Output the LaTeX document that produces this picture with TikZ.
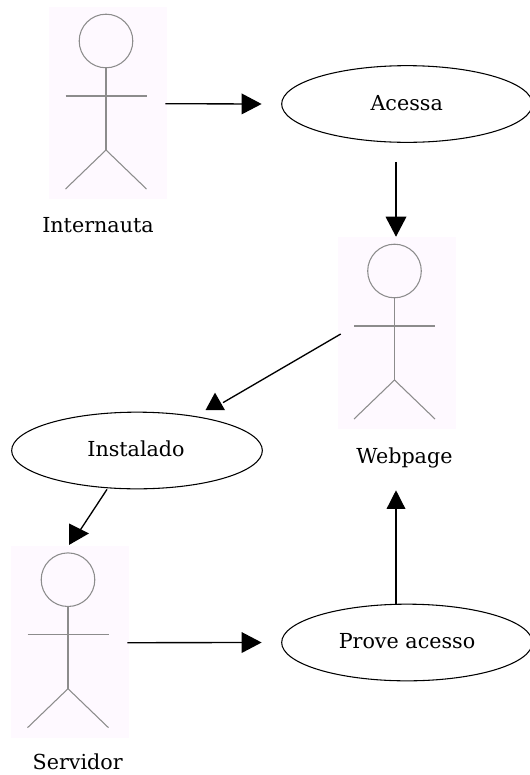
\documentclass[tikz,border=0pt]{standalone}
\usepackage{fontspec}
\setmainfont{DejaVu Serif}
\usetikzlibrary{shapes.geometric,arrows.meta,calc}
\definecolor{actorpink}{RGB}{254,249,255}
\tikzset{
  usecase/.style={draw=black,line width=0.8pt,ellipse,inner sep=0pt,minimum width=188pt,minimum height=57.5pt},
  label text/.style={inner sep=0pt,anchor=base,font=\fontsize{15.5pt}{18pt}\selectfont},
  actorbox/.style={fill=actorpink,draw=none,inner sep=0pt,minimum width=88.5pt,minimum height=144pt},
  limb/.style={draw=black!45,line width=0.8pt},
  flow/.style={draw=black,line width=1pt},
  flowtip/.style={flow,-{Triangle[length=15pt,width=15.5pt]}},
  tiphead/.style={fill=black,draw=none},
  pics/stick/.style={code={
    \draw[limb] (0,-62) circle[radius=26.8];
    \draw[limb] (0,-35) -- (0,47);
    \draw[limb] (-40.5,-7) -- (40.5,-7);
    \draw[limb] (-40.5,86) -- (0,47) -- (40.5,86);
  }}
}
\begin{document}
\begin{tikzpicture}[x=0.75pt,y=-0.75pt]
\useasboundingbox (0,0) rectangle (529,775);
\node[actorbox] (internauta) at (108,103) {};
\pic at (106,103) {stick};
\node[actorbox] (webpage) at (397,333) {};
\pic at (394.5,333) {stick};
\node[actorbox] (servidor) at (70,641.7) {};
\pic at (68,641.7) {stick};
\node[label text] (l1) at (98,232) {Internauta};
\node[label text] (l2) at (404.5,463) {Webpage};
\node[label text] (l3) at (77.7,769) {Servidor};
\node[usecase] (acessa) at (407,104) {};
\node[label text] (l4) at (406.7,110) {Acessa};
\node[usecase] (instalado) at (137,450.5) {};
\node[label text] (l5) at (136,456) {Instalado};
\node[usecase] (prove) at (407,642.5) {};
\node[label text] (l6) at (407,648) {Prove acesso};
% connectors
\draw[flowtip] ($(internauta.east)+(-2,0.7)$) -- ($(acessa.west)+(-19.5,0)$);
\draw[flowtip] ($(acessa.south)+(-11,19)$) -- ($(webpage.north)+(-1,0)$);
\draw[flow] ($(webpage.west)+(3,1)$) -- ($(instalado.north)+(86,-9)$);
\fill[tiphead] ($(instalado.north)+(68.5,-1.5)$) -- ($(instalado.north)+(88,-1.5)$) -- ($(instalado.north)+(78,-19)$) -- cycle;
\draw[flow] ($(instalado.south)+(-30,0)$) -- ($(servidor.north)+(10,-15)$);
\fill[tiphead] ($(servidor.north)+(-1,-22)$) -- ($(servidor.north)+(-1,-0.5)$) -- ($(servidor.north)+(19,-12)$) -- cycle;
\draw[flowtip] ($(servidor.east)+(-2,1)$) -- ($(prove.west)+(-19.5,0)$);
\draw[flowtip,-{Triangle[length=14pt,width=14pt]}] ($(prove.north)+(-11,0)$) -- ($(webpage.south)+(-1,61)$);
\end{tikzpicture}
\end{document}
